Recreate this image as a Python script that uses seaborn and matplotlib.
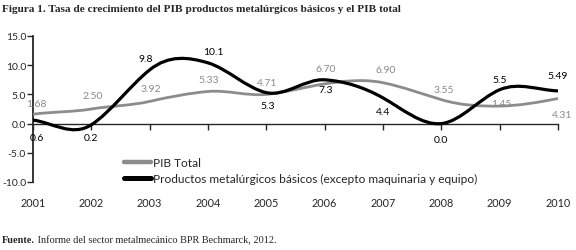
import numpy as np
import pandas as pd
import matplotlib
matplotlib.use('Agg')
import matplotlib.pyplot as plt
from matplotlib.path import Path
from matplotlib.patches import PathPatch
from matplotlib.lines import Line2D
import seaborn as sns

# Data
years = [2001, 2002, 2003, 2004, 2005, 2006, 2007, 2008, 2009, 2010]
pib_total = [1.6, 2.5, 3.8, 5.5, 5.0, 6.8, 7.0, 4.1, 3.0, 4.3]
metal = [0.6, -0.2, 9.2, 10.4, 5.3, 7.5, 4.4, 0.0, 5.8, 5.6]
pib_labels = ['1.68', '2.50', '3.92', '5.33', '4.71', '6.70', '6.90', '3.55', '1.45', '4.31']
metal_labels = ['0.6', '0.2', '9.8', '10.1', '5.3', '7.3', '4.4', '0.0', '5.5', '5.49']

name_pib = 'PIB Total'
name_metal = 'Productos metalúrgicos básicos (excepto maquinaria y equipo)'

df = pd.DataFrame({
    'year': years * 2,
    'value': pib_total + metal,
    'serie': [name_pib] * len(years) + [name_metal] * len(years),
})

colors = {name_pib: '#8c8c8c', name_metal: '#000000'}

# label offsets in pixels (dx, dy)
pib_off = [(3, 11), (1, 13), (1, 13), (1, 12), (1, 12), (1, 15), (3, 13), (2, 10), (2, 3), (4, -16)]
metal_off = [(4, -17), (0, -13), (-4, 11), (5, 11), (1, -13), (1, -10), (0, -14), (0, -16), (0, 10), (0, 15)]

sns.set_style('ticks')
plt.rcParams['font.family'] = ['Lato', 'DejaVu Sans']

fig = plt.figure(figsize=(5.76, 2.51), dpi=100)
ax = fig.add_axes([33 / 576, (251 - 183) / 251, (558 - 33) / 576, (183 - 37) / 251])

sns.lineplot(data=df, x='year', y='value', hue='serie', palette=colors, ax=ax,
             hue_order=[name_pib, name_metal], linewidth=2, legend=False)


def smooth_patch(xs, ys, color, lw, tension=1.5):
    xs = np.asarray(xs, float)
    ys = np.asarray(ys, float)
    n = len(xs)
    m = np.zeros(n)
    for i in range(n):
        if i == 0:
            m[i] = (ys[1] - ys[0]) / (xs[1] - xs[0])
        elif i == n - 1:
            m[i] = (ys[-1] - ys[-2]) / (xs[-1] - xs[-2])
        else:
            m[i] = (ys[i + 1] - ys[i - 1]) / (xs[i + 1] - xs[i - 1])
    m *= tension
    verts = [(xs[0], ys[0])]
    codes = [Path.MOVETO]
    for i in range(n - 1):
        h = xs[i + 1] - xs[i]
        verts += [(xs[i] + h / 3, ys[i] + m[i] * h / 3),
                  (xs[i + 1] - h / 3, ys[i + 1] - m[i + 1] * h / 3),
                  (xs[i + 1], ys[i + 1])]
        codes += [Path.CURVE4] * 3
    return PathPatch(Path(verts, codes), facecolor='none', edgecolor=color,
                     lw=lw, capstyle='butt', zorder=3)


# replace straight segments with smoothed curves
for line in ax.lines:
    line.set_visible(False)
ax.add_patch(smooth_patch(years, pib_total, colors[name_pib], 2.0))
ax.add_patch(smooth_patch(years, metal, colors[name_metal], 2.3))

# value labels
for x, v, t, (dx, dy) in zip(years, pib_total, pib_labels, pib_off):
    ax.annotate(t, (x, v), xytext=(dx, dy), textcoords='offset pixels',
                ha='center', va='center', fontsize=7.5, color='#8a8a8a', annotation_clip=False)
for x, v, t, (dx, dy) in zip(years, metal, metal_labels, metal_off):
    ax.annotate(t, (x, v), xytext=(dx, dy), textcoords='offset pixels',
                ha='center', va='center', fontsize=7.5, color='black', annotation_clip=False)

ax.set_xlim(2001, 2010)
ax.set_ylim(-10, 15)
ax.set_yticks([-10, -5, 0, 5, 10, 15])
ax.set_yticklabels([f'{v:.1f}' for v in [-10, -5, 0, 5, 10, 15]], fontsize=7.5)
ax.set_xticks(years)
ax.tick_params(axis='x', labelbottom=False, length=4, width=1, direction='out')
ax.tick_params(axis='y', length=4, width=1, pad=1)
ax.set_xlabel('')
ax.set_ylabel('')
sns.despine(ax=ax)
ax.spines['bottom'].set_position(('data', 0))
ax.spines['bottom'].set_linewidth(1)
ax.spines['left'].set_linewidth(1.3)

sec = ax.secondary_xaxis('bottom')
sec.set_xticks(years)
sec.set_xticklabels([str(y) for y in years], fontsize=7.8)
sec.tick_params(length=0, pad=11)
sec.spines['bottom'].set_visible(False)

handles = [Line2D([0], [0], color=colors[name_pib], lw=3.2),
           Line2D([0], [0], color=colors[name_metal], lw=3.6)]
ax.legend(handles, [name_pib, name_metal], loc='upper left',
          bbox_to_anchor=(118 / 576, 1 - 152 / 251),
          bbox_transform=fig.transFigure, frameon=False, fontsize=8.6,
          handlelength=2.3, handletextpad=0.1, labelspacing=0.4, borderpad=0)

fig.text(2 / 576, 1 - 9 / 251,
         'Figura 1. Tasa de crecimiento del PIB productos metalúrgicos básicos y el PIB total',
         family='Liberation Serif', weight='bold', fontsize=8.1, va='center', ha='left')
t1 = fig.text(2 / 576, 1 - 245 / 251, 'Fuente.', family='Liberation Serif', weight='bold',
              fontsize=7.4, va='bottom', ha='left')
ax.annotate(' Informe del sector metalmecánico BPR Bechmarck, 2012.', xy=(1, 0), xycoords=t1,
            va='bottom', ha='left', family='Liberation Serif', fontsize=7.4, annotation_clip=False)

plt.savefig('out.png', dpi=100)
